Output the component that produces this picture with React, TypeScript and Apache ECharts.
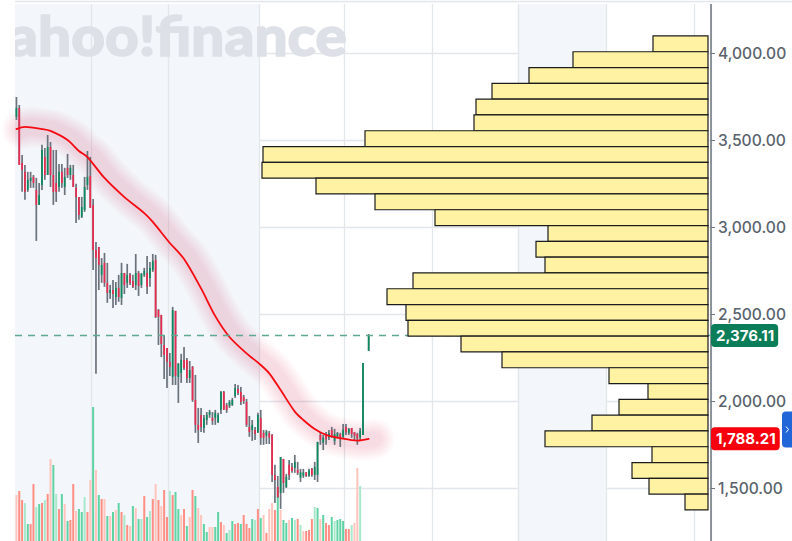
import { useEffect, useRef } from "react";
import * as echarts from "echarts";

const SLOTS = 245;
const categories = Array.from({ length: SLOTS }, (_, i) => String(i));

// open, close, low, high per session
const candles: Array<[number, number, number, number] | null> = [
  [3633, 3684, 3615, 3747], [3684, 3357, 3357, 3701], [3368, 3328, 3202, 3414], [3317, 3202, 3156, 3357],
  [3213, 3271, 3202, 3317], [3265, 3282, 3225, 3317], [3288, 3253, 3225, 3299], [3213, 3127, 2920, 3282],
  [3127, 3184, 3127, 3253], [3242, 3443, 3213, 3472], [3403, 3299, 3271, 3454], [3299, 3460, 3299, 3529],
  [3460, 3299, 3230, 3489], [3299, 3202, 3127, 3443], [3253, 3202, 3144, 3443], [3230, 3317, 3202, 3362],
  [3317, 3253, 3225, 3362], [3230, 3288, 3184, 3340], [3340, 3299, 3282, 3420], [3299, 3340, 3271, 3357],
  [3299, 3230, 3230, 3357], [3225, 3173, 3023, 3248], [3173, 3069, 3041, 3173], [3058, 3115, 3052, 3173],
  [3098, 3230, 3087, 3288], [3242, 3288, 3213, 3437], [3294, 3110, 3110, 3403], [3127, 2868, 2753, 3161],
  [2868, 2822, 2156, 2914], [2885, 2782, 2638, 2885], [2725, 2782, 2679, 2822], [2794, 2679, 2656, 2851],
  [2679, 2621, 2564, 2794], [2621, 2638, 2587, 2667], [2638, 2615, 2535, 2696], [2598, 2650, 2552, 2684],
  [2650, 2598, 2570, 2725], [2592, 2736, 2552, 2794], [2736, 2667, 2615, 2736], [2679, 2725, 2650, 2788],
  [2725, 2679, 2667, 2736], [2690, 2656, 2650, 2725], [2667, 2736, 2638, 2845], [2736, 2661, 2604, 2748],
  [2667, 2730, 2650, 2736], [2725, 2748, 2713, 2765], [2736, 2656, 2615, 2834], [2707, 2765, 2656, 2799],
  [2753, 2805, 2742, 2845], [2811, 2483, 2477, 2840], [2523, 2483, 2322, 2529], [2495, 2328, 2253, 2495],
  [2322, 2265, 2127, 2380], [2305, 2225, 2075, 2305], [2225, 2196, 2144, 2276], [2138, 2523, 2092, 2541],
  [2518, 2144, 2092, 2518], [2138, 2213, 1989, 2219], [2161, 2236, 2104, 2271], [2236, 2190, 2178, 2311],
  [2236, 2132, 2104, 2247], [2132, 2178, 2104, 2230], [2196, 2006, 1995, 2201], [2006, 1863, 1817, 2150],
  [1863, 1834, 1759, 1960], [1920, 1851, 1822, 1960], [1845, 1903, 1817, 1920], [1891, 1920, 1863, 1937],
  [1920, 1937, 1903, 1949], [1903, 1886, 1863, 1937], [1903, 1932, 1863, 1949], [1880, 1920, 1874, 1932],
  [1949, 2052, 1926, 2058], [2052, 1949, 1949, 2058], [1977, 1949, 1932, 1989], [1972, 1995, 1960, 2006],
  [1977, 2006, 1972, 2018], [2029, 2075, 2018, 2098], [2069, 2046, 2035, 2092], [2052, 1995, 1977, 2081],
  [2023, 2000, 1983, 2035], [1995, 1863, 1851, 2012], [1851, 1822, 1794, 1914], [1834, 1863, 1771, 1891],
  [1834, 1811, 1776, 1851], [1817, 1920, 1817, 1932], [1903, 1788, 1748, 1949], [1817, 1788, 1748, 1834],
  [1800, 1825, 1753, 1834], [1815, 1790, 1753, 1828], [1805, 1575, 1535, 1811], [1575, 1546, 1414, 1633],
  [1506, 1449, 1443, 1569], [1472, 1678, 1380, 1678], [1667, 1529, 1472, 1667], [1506, 1564, 1500, 1581],
  [1633, 1575, 1546, 1661], [1621, 1598, 1587, 1644], [1615, 1650, 1587, 1690], [1604, 1587, 1575, 1650],
  [1560, 1590, 1535, 1610], [1570, 1590, 1558, 1610], [1590, 1570, 1564, 1592], [1570, 1600, 1564, 1610],
  [1610, 1575, 1564, 1615], [1575, 1620, 1546, 1650], [1575, 1765, 1535, 1765], [1805, 1776, 1748, 1822],
  [1760, 1790, 1718, 1805], [1805, 1780, 1748, 1822], [1790, 1815, 1776, 1834], [1834, 1800, 1788, 1851],
  [1770, 1810, 1748, 1840], [1795, 1815, 1788, 1822], [1810, 1780, 1736, 1817], [1795, 1835, 1788, 1868],
  [1850, 1820, 1805, 1868], [1817, 1840, 1805, 1845], [1845, 1810, 1788, 1845], [1820, 1800, 1776, 1822],
  [1810, 1785, 1748, 1817], [1790, 1830, 1776, 1845], [1805, 2219, 1805, 2219], null,
  [2288, 2376.11, 2288, 2385],
];

const volumes = [
  46, 50, 41, 38, 17, 17, 57, 34, 37, 38, 41, 47, 82, 76, 47, 32, 47, 37, 20, 21,
  57, 30, 32, 29, 44, 29, 61, 134, 71, 46, 42, 42, 25, 25, 29, 31, 38, 29, 26, 16,
  15, 35, 33, 22, 22, 45, 24, 30, 42, 57, 41, 35, 51, 24, 50, 46, 49, 32, 26, 32,
  15, 24, 51, 45, 33, 26, 17, 9, 14, 14, 14, 29, 19, 16, 8, 11, 20, 17, 18, 17,
  26, 17, 13, 22, 21, 32, 23, 26, 8, 32, 38, 31, 54, 31, 21, 18, 21, 23, 21, 22,
  16, 10, 10, 11, 22, 34, 33, 22, 26, 18, 16, 24, 20, 21, 22, 20, 12, 12, 16, 18,
  73, 55,
];
// U/D = up/down session, lower case = the faded ones
const volumeKinds = (
  "dDDuUDDuUD" + "uDdUuDUdUD" + "DdUUuDdUdU" + "DdUdUdUDuD" + "dUdUuDUuDd" + "DdDDuDUUdD" +
  "UdDUddUUdd" + "UUDdUuUDDU" + "DDDUuDUdDd" + "dDUdUUdUuD" + "udDDDuUdUD" + "DUuUUUDDud" + "du"
).split("");

// moving average, sampled as [session index, price]
const averagePoints: Array<[number, number]> = [
  [0, 3563], [3, 3575], [9, 3563], [12, 3552], [18, 3500], [22, 3437], [25, 3402], [31, 3282],
  [38, 3172], [45, 3080], [48, 3029], [54, 2908], [59, 2816], [65, 2647], [70, 2488], [75, 2368],
  [81, 2274], [86, 2207], [89, 2159], [93, 2063], [98, 1939], [101, 1891], [105, 1839], [109, 1805],
  [114, 1786], [120, 1772], [124, 1782],
];

// volume by price, top row first
const profileVolumes = [
  55, 135, 179, 216, 232, 234, 343, 445, 446, 392, 333, 273, 160, 172, 163,
  295, 321, 302, 300, 247, 206, 99, 60, 89, 116, 163, 56, 76, 59, 23,
];
const PROFILE_TOP = 4098;
const PROFILE_ROW = 90.8;

const LAST_PRICE = 2376.11;
const AVERAGE_PRICE = 1788.21;

const verticalLines = [27, 54, 86, 116, 147, 177, 208, 239];
const bandEdges = [0, 86, 177, 208];

const GRID_COLOR = "#e3e6eb";
const BAND_COLOR = "#f3f6fa";
const AXIS_FONT = "Inter, sans-serif";
const VOLUME_COLORS: Record<string, string> = { U: "#5fd3a4", u: "#a9e8cb", D: "#ff8e84", d: "#ffc4bc" };
const GLOW_WIDTHS = [40, 36, 32, 28, 24, 20, 16];

const money = (v: number) =>
  v.toLocaleString("en-US", { minimumFractionDigits: 2, maximumFractionDigits: 2 });

const priceTag = (color: string, offsetY: number) => ({
  show: true,
  position: "end" as const,
  distance: 0,
  offset: [0, offsetY],
  color: "#fff",
  backgroundColor: color,
  borderRadius: 4,
  padding: [4, 4, 4, 5],
  fontFamily: AXIS_FONT,
  fontSize: 15,
  fontWeight: 700,
  formatter: (p: any) => money(p.value),
});

const glowSeries = (width: number) => ({
  type: "line",
  data: averagePoints.map(([i, v]) => [i + 2, v]),
  xAxisIndex: 0,
  yAxisIndex: 0,
  clip: false,
  silent: true,
  symbol: "none",
  smooth: 0.3,
  z: 2,
  lineStyle: { width, color: "rgba(228,80,100,0.028)", cap: "round", join: "round" },
});

const renderCandle = (_: any, api: any) => {
  const i = api.value(0);
  const open = api.value(1);
  const close = api.value(2);
  const [x, yHigh] = api.coord([i, api.value(4)]);
  const yLow = api.coord([i, api.value(3)])[1];
  const yOpen = api.coord([i, open])[1];
  const yClose = api.coord([i, close])[1];
  const w = 1.7;
  return {
    type: "group",
    children: [
      { type: "rect", shape: { x: x - w / 2, y: yHigh, width: w, height: yLow - yHigh }, style: { fill: "#6a727c" } },
      {
        type: "rect",
        shape: { x: x - w / 2, y: Math.min(yOpen, yClose), width: w, height: Math.abs(yClose - yOpen) },
        style: { fill: close >= open ? "#0a8a5e" : "#ea2a4e" },
      },
    ],
  };
};

const renderProfileRow = (_: any, api: any) => {
  const [x0, y0] = api.coord([0, api.value(1)]);
  const [x1, y1] = api.coord([api.value(0), api.value(2)]);
  return {
    type: "rect",
    shape: { x: x1, y: y0, width: x0 - x1, height: y1 - y0 },
    style: { fill: "#fff3a3", stroke: "#1c1c1c", lineWidth: 1.2 },
  };
};

export default function App() {
  const chartRef = useRef<HTMLDivElement>(null);

  useEffect(() => {
    if (!chartRef.current) return;
    document.body.style.margin = "0";
    const chart = echarts.init(chartRef.current, undefined, { renderer: "svg" });

    chart.setOption({
      animation: false,
      tooltip: { show: false },
      // the axes run past the page so that 500 ticks land on 1,500..4,000
      grid: { left: 15, right: 81, top: -34, height: 609, outerBoundsMode: "none" },
      xAxis: [
        {
          type: "category",
          data: categories,
          axisLine: { show: false },
          axisTick: { show: false },
          axisLabel: { show: false },
          splitLine: {
            show: true,
            interval: (i: number) => verticalLines.includes(i),
            lineStyle: { color: GRID_COLOR, width: 1.3 },
          },
          splitArea: {
            show: true,
            interval: (i: number) => bandEdges.includes(i),
            areaStyle: { color: [BAND_COLOR, "rgba(255,255,255,0)"] },
          },
        },
        { type: "value", show: false, position: "top", inverse: true, min: -3, max: 693 },
      ],
      yAxis: [
        {
          type: "value",
          position: "right",
          min: 1000,
          max: 4500,
          interval: 500,
          axisLine: { show: true, onZero: false, lineStyle: { color: "#6e757d", width: 1.5 } },
          axisTick: { show: true, length: 4, lineStyle: { color: "#6e757d" } },
          axisLabel: {
            margin: 7,
            color: "#59626c",
            fontFamily: AXIS_FONT,
            fontSize: 15.6,
            fontWeight: 500,
            showMinLabel: false,
            showMaxLabel: false,
            formatter: (v: number) => money(v),
          },
          splitLine: { show: true, lineStyle: { color: GRID_COLOR, width: 1.3 } },
        },
        { type: "value", show: false, min: -34, max: 575, splitLine: { show: false } },
      ],
      graphic: [
        {
          type: "text",
          z: 1,
          silent: true,
          x: 8,
          y: 6,
          scaleX: 1.045,
          style: { text: "ahoo!finance", fill: "#dde1e7", stroke: "#dde1e7", lineWidth: 1.5, font: "900 56px Lato, sans-serif" },
        },
        { type: "rect", z: 1, silent: true, shape: { x: 0, y: 8, width: 15, height: 60 }, style: { fill: "#fff" } },
        { type: "rect", z: 7, silent: true, shape: { x: 0, y: 0, width: 792, height: 4 }, style: { fill: "#fff" } },
        { type: "line", z: 7, silent: true, shape: { x1: 15, y1: 1.5, x2: 792, y2: 1.5 }, style: { stroke: GRID_COLOR, lineWidth: 1.3 } },
        { type: "rect", z: 7, silent: true, shape: { x: 782, y: 411.5, width: 12, height: 36, r: [4, 0, 0, 4] }, style: { fill: "#2066d8" } },
        { type: "polyline", z: 7, silent: true, shape: { points: [[786, 426.5], [788.5, 429.5], [786, 432.5]] }, style: { stroke: "#fff", fill: "none", lineWidth: 1 } },
      ],
      series: [
        {
          type: "bar",
          data: volumes.map((v, i) => ({ value: v, itemStyle: { color: VOLUME_COLORS[volumeKinds[i]] } })),
          xAxisIndex: 0,
          yAxisIndex: 1,
          barWidth: 2,
          silent: true,
          z: 2,
        },
        ...GLOW_WIDTHS.map(glowSeries),
        {
          type: "custom",
          data: candles.flatMap((c, i) => (c ? [[i, ...c]] : [])),
          renderItem: renderCandle,
          encode: { x: 0, y: [1, 2, 3, 4] },
          xAxisIndex: 0,
          yAxisIndex: 0,
          silent: true,
          z: 3,
        },
        {
          type: "line",
          data: averagePoints,
          xAxisIndex: 0,
          yAxisIndex: 0,
          clip: false,
          silent: true,
          symbol: "none",
          smooth: 0.3,
          z: 4,
          lineStyle: { width: 1.8, color: "#f50a12", cap: "round" },
          markLine: {
            silent: true,
            symbol: "none",
            animation: false,
            data: [
              {
                yAxis: LAST_PRICE,
                lineStyle: { type: [7, 6], color: "#5ea98f", width: 1.3 },
                label: priceTag("#0b7d58", 0),
              },
              {
                yAxis: AVERAGE_PRICE,
                lineStyle: { color: "rgba(0,0,0,0)" },
                label: priceTag("#f5000c", 1),
              },
            ],
          },
        },
        {
          type: "custom",
          data: profileVolumes.map((v, i) => [v, PROFILE_TOP - i * PROFILE_ROW, PROFILE_TOP - (i + 1) * PROFILE_ROW]),
          renderItem: renderProfileRow,
          encode: { x: 0, y: [1, 2] },
          xAxisIndex: 1,
          yAxisIndex: 0,
          silent: true,
          z: 6,
        },
      ],
    });

    return () => chart.dispose();
  }, []);

  return <div ref={chartRef} style={{ position: "fixed", left: 0, top: 0, width: 792, height: 541 }} />;
}
